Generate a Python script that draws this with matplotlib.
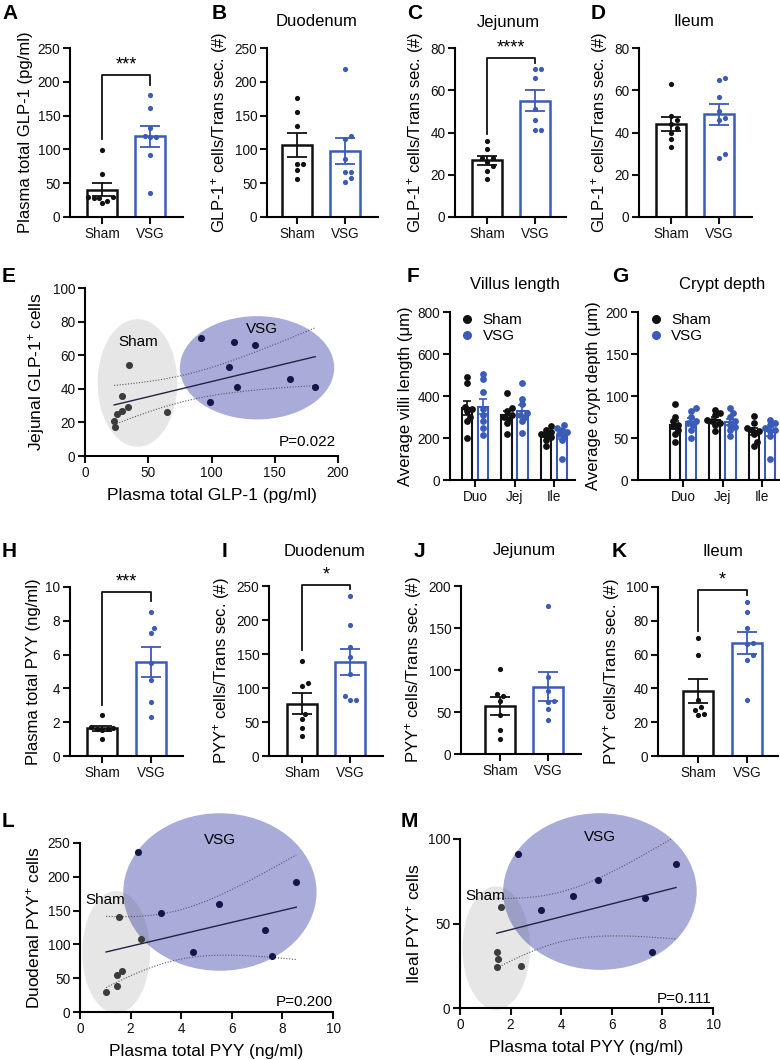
import numpy as np
import matplotlib
matplotlib.use("Agg")
import matplotlib.pyplot as plt
from matplotlib.patches import Ellipse
from matplotlib.lines import Line2D

plt.rcParams["font.family"] = ["Liberation Sans", "DejaVu Sans"]
plt.rcParams["mathtext.fontset"] = "custom"
plt.rcParams["mathtext.rm"] = "Liberation Sans"
plt.rcParams["mathtext.default"] = "regular"

# ---------------- datos ----------------
groups = ["Sham", "VSG"]
segments = ["Duo", "Jej", "Ile"]

# A: GLP-1 plasmatico (pg/ml)
glp1_plasma_sham = [99, 63, 30, 29, 28, 28, 24, 21]
glp1_plasma_vsg = [181, 161, 132, 120, 119, 118, 91, 35]
# B-D: celulas GLP-1+ por seccion
glp1_duo_sham = [176, 155, 134, 78, 78, 70, 56]
glp1_duo_vsg = [219, 120, 116, 86, 66, 66, 58, 52]
glp1_jej_sham = [36, 32, 28, 28, 26, 24, 22, 18]
glp1_jej_vsg = [70, 70, 66, 51, 46, 41, 41]
glp1_ile_sham = [63, 48, 46, 44, 42, 40, 37, 33]
glp1_ile_vsg = [66, 65, 57, 50, 47, 46, 30, 28]

# E: correlacion GLP-1 plasmatico vs celulas yeyunales
e_sham_x = [35, 29.5, 33.7, 29.5, 25.5, 23, 24, 64.5]
e_sham_y = [54, 36, 29, 27, 25, 21, 17, 26]
e_vsg_x = [92, 118, 134, 114, 120, 99, 162, 182]
e_vsg_y = [70, 68, 66, 53, 41, 32, 46, 41]

# F: longitud de vellosidad (um), por segmento
villus_sham = [[490, 460, 350, 340, 330, 300, 280, 200],
               [415, 345, 330, 310, 300, 290, 270, 220],
               [255, 240, 230, 220, 215, 205, 190, 160]]
villus_vsg = [[505, 480, 420, 340, 310, 280, 250, 215],
              [460, 385, 360, 320, 310, 300, 280, 225],
              [260, 250, 240, 230, 220, 210, 190, 100]]
# G: profundidad de cripta (um)
crypt_sham = [[91, 75, 70, 66, 64, 60, 55, 45],
              [83, 80, 77, 72, 70, 68, 65, 58],
              [76, 68, 62, 60, 58, 55, 45, 40]]
crypt_vsg = [[86, 82, 75, 70, 68, 65, 60, 50],
             [86, 80, 75, 70, 66, 63, 60, 52],
             [72, 68, 65, 62, 60, 58, 52, 25]]

# H: PYY plasmatico (ng/ml)
pyy_plasma_sham = [2.4, 1.7, 1.65, 1.6, 1.6, 1.55, 1.0]
pyy_plasma_vsg = [8.5, 7.6, 7.3, 5.5, 4.5, 3.2, 2.3]
# I-K: celulas PYY+ por seccion
pyy_duo_sham = [140, 108, 103, 62, 55, 41, 30]
pyy_duo_vsg = [235, 192, 160, 145, 121, 88, 83, 82]
pyy_jej_sham = [101, 72, 69, 63, 46, 29, 18]
pyy_jej_vsg = [176, 92, 75, 63, 62, 53, 41]
pyy_ile_sham = [70, 60, 33, 29, 27, 25, 24]
pyy_ile_vsg = [91, 85, 76, 67, 66, 59.5, 57, 33]

# L: PYY plasmatico vs celulas duodenales
l_sham_x = [1.54, 2.41, 1.65, 1.45, 1.45, 1.03]
l_sham_y = [141, 108, 61, 55, 39, 30]
l_vsg_x = [2.31, 3.2, 5.48, 8.55, 7.3, 4.45, 7.6]
l_vsg_y = [236, 146, 160, 193, 122, 89, 83]
# M: PYY plasmatico vs celulas ileales
m_sham_x = [1.62, 1.45, 1.52, 1.47, 2.4]
m_sham_y = [60, 33, 29, 24, 25]
m_vsg_x = [2.28, 3.2, 4.45, 5.47, 8.54, 7.3, 7.59]
m_vsg_y = [91, 58, 66, 76, 85, 65, 33]

# ---------------- estilo ----------------
BLACK = "#111111"
BLUE = "#3a5bb8"
DARK = "#3c3c3c"
NAVY = "#15154a"
BLUE_ELL = "#a9acd9"

W, H = 780, 1060
fig = plt.figure(figsize=(W / 100, H / 100), dpi=100)


def add_ax(l, t, r, b):
    """Crea ejes a partir de una caja en pixeles (izq, arriba, der, abajo)."""
    ax = fig.add_axes([l / W, 1 - b / H, (r - l) / W, (b - t) / H])
    ax.spines[["top", "right"]].set_visible(False)
    for s in ["left", "bottom"]:
        ax.spines[s].set_linewidth(1.5)
    ax.tick_params(width=1.5, length=5, labelsize=9.8, pad=2, colors=BLACK)
    ax.set_facecolor("none")
    return ax


def swarm(ax, center, vals, dot_px):
    """Posiciones x tipo 'enjambre' para que los puntos no se pisen."""
    vals = np.asarray(vals, float)
    pts = ax.transData.transform(np.column_stack([np.full(len(vals), center), vals]))
    x0 = pts[0, 0]
    inv = ax.transData.inverted()
    cands = [0.0]
    for k in range(1, 10):
        cands += [k * 0.5 * dot_px, -k * 0.5 * dot_px]
    placed = []
    xs = np.zeros(len(vals))
    for i in np.argsort(pts[:, 1]):
        y = pts[i, 1]
        for xo in cands:
            if all((xo - px) ** 2 + (y - py) ** 2 >= (dot_px * 0.95) ** 2 for px, py in placed):
                break
        placed.append((xo, y))
        xs[i] = inv.transform([[x0 + xo, y]])[0, 0]
    return xs


def sem(v):
    v = np.asarray(v, float)
    return v.std(ddof=1) / np.sqrt(len(v))


def fig_text(x, y, s, **kw):
    """Texto en coordenadas de pixel de la figura."""
    fig.text(x / W, 1 - y / H, s, **kw)


def bar_panel(box, sham, vsg, ylim, yticks, ylabel, bracket=None):
    l, t, r, b, s, v = box
    ax = add_ax(l, t, r, b)
    d = v - s
    ax.set_xlim((l - s) / d, (r - s) / d)
    ax.set_ylim(*ylim)
    ax.set_yticks(yticks)
    ax.set_xticks([0, 1])
    ax.set_xticklabels(groups)
    ax.set_ylabel(ylabel, fontsize=12, labelpad=3)
    for i, (vals, col) in enumerate([(sham, BLACK), (vsg, BLUE)]):
        m = np.mean(vals)
        ax.bar(i, m, width=30 / d, facecolor="white", edgecolor=col, linewidth=1.8, zorder=2)
        ax.errorbar(i, m, yerr=sem(vals), color=col, capsize=7, elinewidth=1.3,
                    capthick=1.3, zorder=4)
        xs = swarm(ax, i, vals, 5.5)
        ax.scatter(xs, vals, s=14, color=col, zorder=5, linewidths=0)
    if bracket:
        lb, top, rb, stars = bracket
        ax.plot([0, 0, 1, 1], [lb, top, top, rb], color=BLACK, lw=1.3, clip_on=False)
        ax.annotate(stars, (0.5, top), xytext=(0, 1), textcoords="offset points",
                    ha="center", va="bottom", fontsize=13, annotation_clip=False)
    return ax


def group_panel(box, sham, vsg, ylim, yticks, ylabel):
    l, t, r, b, g0, dg = box
    ax = add_ax(l, t, r, b)
    ax.set_xlim((l - g0) / dg, (r - g0) / dg)
    ax.set_ylim(*ylim)
    ax.set_yticks(yticks)
    ax.set_xticks(range(len(segments)))
    ax.set_xticklabels(segments)
    ax.set_ylabel(ylabel, fontsize=12, labelpad=3)
    for j in range(len(segments)):
        for k, (vals, col) in enumerate([(sham[j], BLACK), (vsg[j], BLUE)]):
            x = j + (-0.2 if k == 0 else 0.2)
            m = np.mean(vals)
            ax.bar(x, m, width=0.27, facecolor="white", edgecolor=col, linewidth=1.5, zorder=2)
            ax.errorbar(x, m, yerr=sem(vals), color=col, capsize=3, elinewidth=1.2,
                        capthick=1.2, zorder=4)
            xs = swarm(ax, x, vals, 5)
            ax.scatter(xs, vals, s=24, color=col, zorder=5, linewidths=0)
    handles = [Line2D([], [], marker="o", ls="", color=c, markersize=5.5) for c in (BLACK, BLUE)]
    ax.legend(handles, groups, loc="upper left", bbox_to_anchor=(0.03, 1.03), frameon=False,
              fontsize=11, handletextpad=0.5, labelspacing=0.15, borderaxespad=0,
              handlelength=1.0)
    return ax


def scatter_panel(box, sx, sy, vx, vy, xlim, ylim, xticks, yticks, xlabel, ylabel,
                  sham_ell, vsg_ell, sham_txt, vsg_txt, ptxt, tcrit):
    l, t, r, b = box
    ax = add_ax(l, t, r, b)
    ax.set_xlim(*xlim)
    ax.set_ylim(*ylim)
    ax.set_xticks(xticks)
    ax.set_yticks(yticks)
    ax.set_xlabel(xlabel, fontsize=12.5, labelpad=6)
    ax.set_ylabel(ylabel, fontsize=12.5, labelpad=4)
    # elipses de cada grupo (la gris semitransparente encima)
    (c, w, h) = vsg_ell
    ax.add_patch(Ellipse(c, w, h, facecolor=BLUE_ELL, edgecolor="none", zorder=0.5, clip_on=False))
    (c, w, h) = sham_ell
    ax.add_patch(Ellipse(c, w, h, facecolor="#404040", alpha=0.13, edgecolor="none",
                         zorder=0.6, clip_on=False))
    # regresion lineal con IC 95%
    x = np.array(sx + vx, float)
    y = np.array(sy + vy, float)
    n = len(x)
    slope, inter = np.polyfit(x, y, 1)
    resid = y - (slope * x + inter)
    s_err = np.sqrt(np.sum(resid ** 2) / (n - 2))
    sxx = np.sum((x - x.mean()) ** 2)
    xx = np.linspace(x.min(), x.max(), 100)
    yy = slope * xx + inter
    ci = tcrit * s_err * np.sqrt(1 / n + (xx - x.mean()) ** 2 / sxx)
    ax.plot(xx, yy, color="#222244", lw=1.0, zorder=2)
    ax.plot(xx, yy + ci, color="#555566", lw=0.8, ls=(0, (1, 1.5)), zorder=2)
    ax.plot(xx, yy - ci, color="#555566", lw=0.8, ls=(0, (1, 1.5)), zorder=2)
    ax.scatter(sx, sy, s=26, color=DARK, zorder=4, linewidths=0)
    ax.scatter(vx, vy, s=26, color=NAVY, zorder=4, linewidths=0)
    ax.text(*sham_txt, "Sham", fontsize=11, ha="center", va="center", zorder=3)
    ax.text(*vsg_txt, "VSG", fontsize=11, ha="center", va="center", zorder=3)
    ax.text(*ptxt, fontsize=11, ha="right", va="bottom", zorder=3)
    return ax


# ---------------- fila 1: A-D ----------------
glp_lab = "GLP-1$^{+}$ cells/Trans sec. (#)"
bar_panel((70, 48, 183, 217, 102, 150), glp1_plasma_sham, glp1_plasma_vsg,
          (0, 250), range(0, 251, 50), "Plasma total GLP-1 (pg/ml)",
          bracket=(115, 210, 195, "***"))
bar_panel((267, 48, 378, 217, 297, 345), glp1_duo_sham, glp1_duo_vsg,
          (0, 250), range(0, 251, 50), glp_lab)
bar_panel((455, 48, 566, 217, 487, 535), glp1_jej_sham, glp1_jej_vsg,
          (0, 80), range(0, 81, 20), glp_lab, bracket=(39.5, 75.2, 72.8, "****"))
bar_panel((639, 48, 752, 217, 671, 719), glp1_ile_sham, glp1_ile_vsg,
          (0, 80), range(0, 81, 20), glp_lab)

# ---------------- fila 2: E-G ----------------
scatter_panel((85, 288, 338, 456), e_sham_x, e_sham_y, e_vsg_x, e_vsg_y,
              (0, 200), (0, 100), range(0, 201, 50), range(0, 101, 20),
              "Plasma total GLP-1 (pg/ml)", "Jejunal GLP-1$^{+}$ cells",
              ((41.5, 43.5), 63, 76), ((136, 52.5), 122, 61.5),
              (42, 68), (140, 75.6), (198, 4, "P=0.022"), 2.145)
group_panel((450, 312, 575, 480, 475, 39.5), villus_sham, villus_vsg,
            (0, 800), range(0, 801, 200), "Average villi length (\u03bcm)")
group_panel((638, 312, 779, 480, 683, 39.5), crypt_sham, crypt_vsg,
            (0, 200), range(0, 201, 50), "Average crypt depth (\u03bcm)")

# ---------------- fila 3: H-K ----------------
pyy_lab = "PYY$^{+}$ cells/Trans sec. (#)"
bar_panel((70, 587, 183, 756, 102, 151), pyy_plasma_sham, pyy_plasma_vsg,
          (0, 10), range(0, 11, 2), "Plasma total PYY (ng/ml)",
          bracket=(3.0, 9.7, 9.2, "***"))
bar_panel((269, 586, 383, 756, 302, 350), pyy_duo_sham, pyy_duo_vsg,
          (0, 250), range(0, 251, 50), pyy_lab, bracket=(156, 251, 245, "*"))
bar_panel((461, 586, 581, 754, 500, 548), pyy_jej_sham, pyy_jej_vsg,
          (0, 200), range(0, 201, 50), pyy_lab)
bar_panel((658, 587, 778, 756, 698, 747), pyy_ile_sham, pyy_ile_vsg,
          (0, 100), range(0, 101, 20), pyy_lab, bracket=(74, 98.2, 95.3, "*"))

# ---------------- fila 4: L-M ----------------
scatter_panel((80, 843, 333, 1012), l_sham_x, l_sham_y, l_vsg_x, l_vsg_y,
              (0, 10), (0, 250), range(0, 11, 2), range(0, 251, 50),
              "Plasma total PYY (ng/ml)", "Duodenal PYY$^{+}$ cells",
              ((1.43, 88.5), 2.68, 181), ((5.53, 177.5), 7.64, 233),
              (1.0, 166), (5.53, 254), (10, 5, "P=0.200"), 2.201)
scatter_panel((460, 839, 713, 1008), m_sham_x, m_sham_y, m_vsg_x, m_vsg_y,
              (0, 10), (0, 100), range(0, 11, 2), range(0, 101, 50),
              "Plasma total PYY (ng/ml)", "Ileal PYY$^{+}$ cells",
              ((1.43, 35.5), 2.67, 73), ((5.53, 68.9), 7.65, 92.7),
              (0.99, 66), (5.53, 101), (9.95, 1, "P=0.111"), 2.228)

# titulos de panel
for (x, y, s) in [(317, 22, "Duodenum"), (508, 22, "Jejunum"), (694, 22, "Ileum"),
                  (515, 285, "Villus length"), (722, 285, "Crypt depth"),
                  (325, 551, "Duodenum"), (524, 551, "Jejunum"), (723, 551, "Ileum")]:
    fig_text(x, y, s, fontsize=12, ha="center", va="center")

# letras de panel
for (x, y, s) in [(2, 4, "A"), (212, 4, "B"), (407, 4, "C"), (591, 4, "D"),
                  (2, 267, "E"), (407, 267, "F"), (612, 267, "G"),
                  (2, 542, "H"), (222, 542, "I"), (414, 542, "J"), (612, 542, "K"),
                  (2, 812, "L"), (401, 812, "M")]:
    fig_text(x, y, s, fontsize=15, fontweight="bold", va="top", ha="left")

fig.savefig("out.png", dpi=100)
